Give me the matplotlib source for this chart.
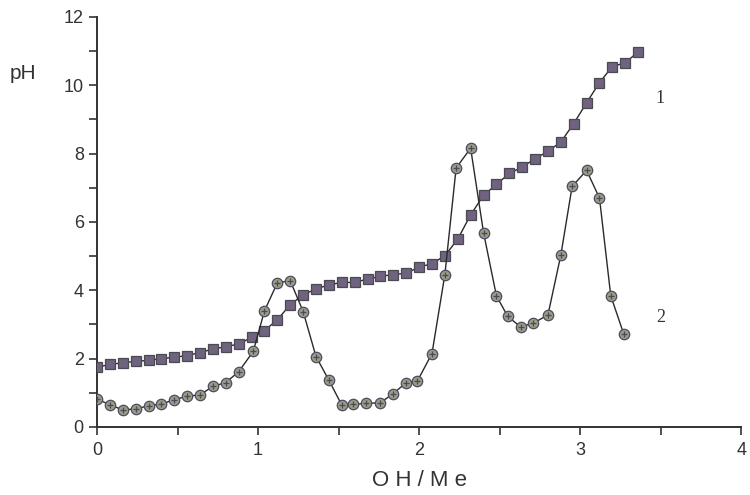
import matplotlib
matplotlib.use("Agg")
import matplotlib.pyplot as plt
from matplotlib.ticker import MultipleLocator

# curve 1 (squares)
x1 = [0.00, 0.08, 0.16, 0.24, 0.32, 0.40, 0.48, 0.56, 0.64, 0.72, 0.80, 0.88, 0.96,
      1.04, 1.12, 1.20, 1.28, 1.36, 1.44, 1.52, 1.60, 1.68, 1.76, 1.84, 1.92, 2.00,
      2.08, 2.16, 2.24, 2.32, 2.40, 2.48, 2.56, 2.64, 2.72, 2.80, 2.88, 2.96, 3.04,
      3.12, 3.20, 3.28, 3.36]
ph1 = [1.75, 1.83, 1.88, 1.92, 1.95, 2.00, 2.04, 2.09, 2.18, 2.28, 2.35, 2.43, 2.62,
       2.82, 3.14, 3.58, 3.87, 4.04, 4.16, 4.23, 4.23, 4.33, 4.41, 4.46, 4.50, 4.68,
       4.78, 5.01, 5.50, 6.21, 6.78, 7.10, 7.42, 7.61, 7.85, 8.07, 8.34, 8.88, 9.49,
       10.08, 10.55, 10.66, 10.98]

# curve 2 (circles)
x2 = [0.00, 0.08, 0.16, 0.24, 0.32, 0.40, 0.48, 0.56, 0.64, 0.72, 0.80, 0.88, 0.97,
      1.04, 1.12, 1.20, 1.28, 1.36, 1.44, 1.52, 1.59, 1.67, 1.76, 1.84, 1.92, 1.99,
      2.08, 2.16, 2.23, 2.32, 2.40, 2.48, 2.55, 2.63, 2.71, 2.80, 2.88, 2.95, 3.04,
      3.12, 3.19, 3.27]
ph2 = [0.82, 0.65, 0.50, 0.53, 0.62, 0.67, 0.80, 0.90, 0.94, 1.19, 1.30, 1.62, 2.21,
       3.40, 4.22, 4.28, 3.38, 2.06, 1.37, 0.64, 0.66, 0.69, 0.71, 0.98, 1.30, 1.35,
       2.15, 4.46, 7.58, 8.16, 5.69, 3.84, 3.24, 2.93, 3.04, 3.28, 5.03, 7.04, 7.51,
       6.70, 3.84, 2.73]

fig = plt.figure(figsize=(7.5, 4.95), dpi=100)
ax = fig.add_axes([0.1293, 0.1374, 0.8590, 0.8283])

ax.plot(x1, ph1, color='#2a2a2a', lw=1.0, marker='s', ms=7.5,
        mfc='#6f6380', mec='#4b4a52', mew=0.9, zorder=3)
ax.plot(x2, ph2, color='#2a2a2a', lw=1.0, marker='o', ms=7.5,
        mfc='#9a9c86', mec='#4e4c5e', mew=0.9, zorder=3)
ax.plot(x2, ph2, ls='none', marker='+', ms=5, mec='#4a485a', mew=0.9, zorder=4)

ax.set_xlim(0, 4)
ax.set_ylim(0, 12)
ax.xaxis.set_major_locator(MultipleLocator(1))
ax.xaxis.set_minor_locator(MultipleLocator(0.5))
ax.yaxis.set_major_locator(MultipleLocator(2))
ax.yaxis.set_minor_locator(MultipleLocator(1))
ax.tick_params(which='both', direction='out', length=6, width=1.2,
               color='#333333', labelsize=13, labelcolor='#333333')
ax.tick_params(axis='x', pad=5)
for s in ['top', 'right']:
    ax.spines[s].set_visible(False)
for s in ['left', 'bottom']:
    ax.spines[s].set_linewidth(1.4)
    ax.spines[s].set_color('#333333')
for lab in ax.get_xticklabels() + ax.get_yticklabels():
    lab.set_family('Liberation Sans')

ax.set_xlabel('O H / M e', fontsize=16, family='Liberation Sans',
              color='#333333', labelpad=8)
fig.text(0.013, 0.84, 'pH', fontsize=15, family='Liberation Sans', color='#333333')

ax.text(3.47, 9.6, '1', fontsize=13, family='Liberation Serif', color='#333333',
        ha='left', va='center')
ax.text(3.47, 3.2, '2', fontsize=13, family='Liberation Serif', color='#333333',
        ha='left', va='center')

fig.savefig('out.png', dpi=100)
